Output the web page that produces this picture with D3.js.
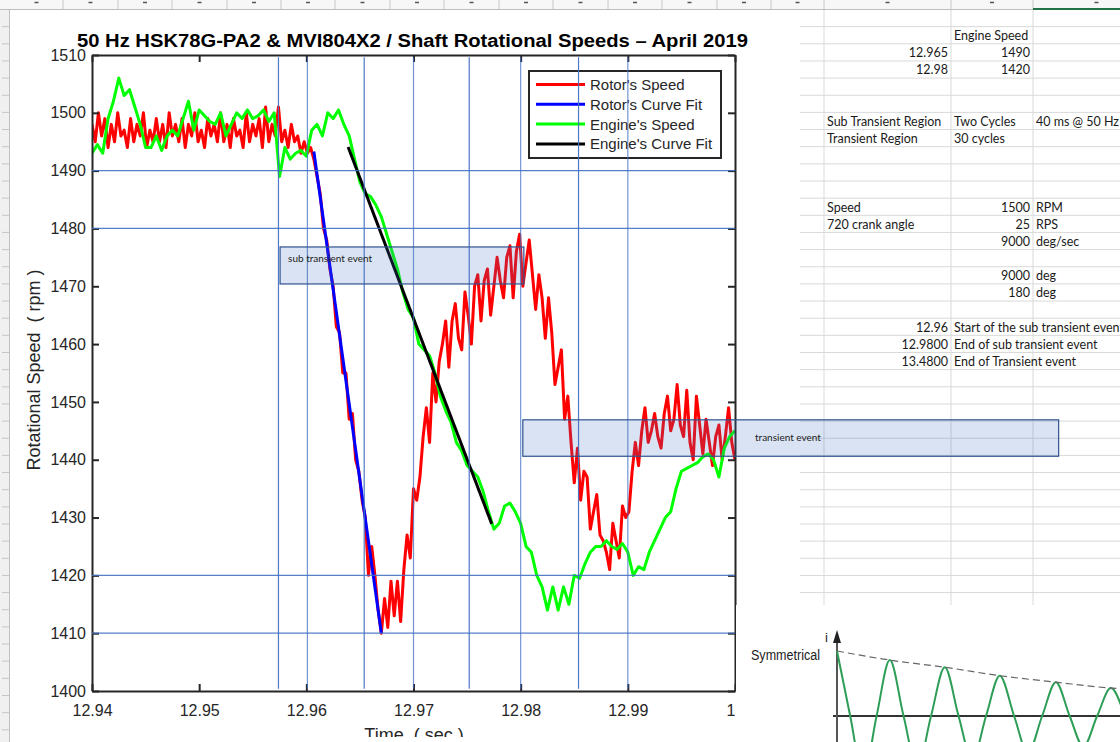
<!DOCTYPE html>
<html lang="en">
<head>
<meta charset="UTF-8">
<title>Shaft Rotational Speeds - April 2019</title>
<style>
  body { margin: 0; background: #fff; }
  svg { display: block; }
  .mat text { font-family: "Liberation Sans", Arial, sans-serif; }
  .cell { font-family: Lato, "Open Sans", sans-serif; font-size: 12.5px; fill: #1a1a1a; }
  .note { font-family: Lato, "Open Sans", sans-serif; font-size: 10px; fill: #222; }
</style>
<script src="https://cdn.jsdelivr.net/npm/d3@7/dist/d3.min.js"></script>
</head>
<body>
<script>
// ---------- values ----------
// rotor speed, sampled every 0.3 ms from 12.94 s
const rotorStart = 12.94;
const rotorStep = 0.0003;
const rotorSpeed = [
  1498, 1495, 1500, 1496, 1499, 1494, 1498, 1495, 1500, 1496,
  1497, 1494, 1499, 1495, 1498, 1496, 1500, 1494, 1497, 1495,
  1499, 1495, 1498, 1494, 1500, 1496, 1498, 1495, 1499, 1494,
  1498, 1496, 1500, 1495, 1497, 1494, 1499, 1496, 1498, 1495,
  1500, 1495, 1498, 1494, 1499, 1496, 1497, 1494, 1500, 1495,
  1498, 1496, 1499, 1494, 1501, 1495, 1498, 1496, 1501, 1495,
  1497, 1494, 1498, 1495, 1496, 1493, 1495, 1493,
  1494, 1492, 1489, 1486, 1480, 1478, 1473, 1470, 1463, 1462,
  1455, 1455, 1447, 1448, 1440, 1438, 1433, 1430, 1420, 1425,
  1420, 1414,
  1410, 1416, 1411, 1419, 1413, 1419, 1412,
  1421, 1427, 1423, 1435, 1433, 1437, 1444, 1449, 1443, 1455,
  1450, 1457, 1460, 1464, 1456, 1464, 1467, 1461, 1459, 1469,
  1465, 1460, 1470, 1472, 1464, 1471, 1473, 1465, 1470, 1475,
  1471, 1468, 1475, 1477, 1468, 1476, 1479, 1470, 1474, 1478,
  1472, 1466, 1472, 1468, 1461, 1468, 1462, 1453, 1456, 1459,
  1447, 1451, 1443, 1436, 1442, 1433, 1438, 1437, 1428, 1431,
  1434, 1427, 1426, 1424, 1421, 1429, 1426, 1423, 1432, 1430,
  1431, 1438, 1443, 1439, 1445, 1449, 1443, 1445, 1448, 1444,
  1442, 1448, 1451, 1445, 1447, 1453, 1446, 1444, 1452, 1443,
  1440, 1451, 1446, 1441, 1447, 1443, 1439, 1444, 1446, 1440,
  1444, 1449, 1443, 1440
];

// engine speed, sampled every 0.5 ms from 12.94 s
const engineStart = 12.94;
const engineStep = 0.0005;
const engineSpeed = [
  1493, 1494.5, 1493, 1499, 1502, 1506, 1503, 1504, 1501, 1498,
  1494, 1494, 1496, 1493.5, 1496, 1497, 1496, 1499, 1502, 1497,
  1500.5, 1499.5, 1498.5, 1498, 1500, 1496, 1498, 1500, 1499, 1500.5,
  1499, 1499.5, 1500.5, 1498.5, 1500, 1489, 1494, 1492, 1493, 1493.5,
  1492.5, 1497, 1498, 1496, 1500, 1499, 1500.5, 1498, 1496, 1492,
  1488, 1486, 1485.5, 1484, 1482, 1479, 1476, 1473, 1469, 1466,
  1464.5, 1460, 1459, 1458, 1455, 1451, 1448.5, 1446.5, 1443, 1441.5,
  1439, 1438, 1437, 1434.5, 1431, 1428, 1429, 1432, 1432.5, 1431,
  1429, 1425, 1424, 1420, 1418, 1414, 1418, 1414, 1418, 1415,
  1420, 1419.5, 1422, 1424, 1425, 1425, 1426, 1425, 1424.5, 1425.5,
  1424, 1420, 1421.5, 1421, 1424, 1426, 1428, 1430, 1431, 1435,
  1438, 1438.5, 1439, 1439.5, 1440.5, 1441, 1440, 1437, 1442, 1444,
  1445
];

const rotorFitTime = [12.9607, 12.9670];
const rotorFitRpm = [1493.3, 1410];
const engineFitTime = [12.9639, 12.9773];
const engineFitRpm = [1494.1, 1428.9];

const xTicks = [12.94, 12.95, 12.96, 12.97, 12.98, 12.99, 13.0];
const xTickLabels = ["12.94", "12.95", "12.96", "12.97", "12.98", "12.99", "13"];
const yTicks = [1400, 1410, 1420, 1430, 1440, 1450, 1460, 1470, 1480, 1490, 1500, 1510];

const legendLabels = ["Rotor's Speed", "Rotor's Curve Fit", "Engine's Speed", "Engine's Curve Fit"];
const legendColors = ["#ff0000", "#0000ff", "#00ff00", "#000000"];

// hand-drawn blue guide lines laid over the plot
const guideTimes = [12.9574, 12.9601, 12.9654, 12.9700, 12.9752, 12.9800, 12.9854, 12.9900];
const guideRpms = [1490, 1480, 1420, 1410];

// shaded annotation boxes: [t0, t1, rpmTop, rpmBottom, label]
const noteBoxes = [
  [12.95755, 12.98030, 1476.8, 1470.4, "sub transient event"],
  [12.98020, 13.03020, 1446.9, 1440.6, "transient event"]
];

// spreadsheet cells: [row, column, text, align]
const sheetCells = [
  [1, 1, "Engine Speed", "start"],
  [2, 0, "12.965", "end"], [2, 1, "1490", "end"],
  [3, 0, "12.98", "end"], [3, 1, "1420", "end"],
  [6, 0, "Sub Transient Region", "start"], [6, 1, "Two Cycles", "start"], [6, 2, "40 ms @ 50 Hz", "start"],
  [7, 0, "Transient Region", "start"], [7, 1, "30 cycles", "start"],
  [11, 0, "Speed", "start"], [11, 1, "1500", "end"], [11, 2, "RPM", "start"],
  [12, 0, "720 crank angle", "start"], [12, 1, "25", "end"], [12, 2, "RPS", "start"],
  [13, 1, "9000", "end"], [13, 2, "deg/sec", "start"],
  [15, 1, "9000", "end"], [15, 2, "deg", "start"],
  [16, 1, "180", "end"], [16, 2, "deg", "start"],
  [18, 0, "12.96", "end"], [18, 1, "Start of the sub transient event", "start"],
  [19, 0, "12.9800", "end"], [19, 1, "End of sub transient event", "start"],
  [20, 0, "13.4800", "end"], [20, 1, "End of Transient event", "start"]
];

// "Symmetrical" sketch: cycles vs. relative current
const symCycles = [0, 0.24, 0.48, 0.72, 0.96, 1.21, 1.46, 1.71, 1.96, 2.21, 2.46, 2.71,
  2.96, 3.22, 3.47, 3.73, 3.98, 4.23, 4.48, 4.73, 4.98, 5.23];
const symCurrent = [1, 0, -0.93, 0, 0.86, 0, -0.8, 0, 0.75, 0, -0.68, 0,
  0.62, 0, -0.57, 0, 0.52, 0, -0.47, 0, 0.43, 0];
const envCycles = [0, 0.96, 1.96, 2.96, 3.98, 4.98, 5.4];
const envCurrent = [1, 0.86, 0.75, 0.62, 0.52, 0.43, 0.41];

// ---------- drawing ----------
const W = 1120, H = 742;
const svg = d3.select("body").append("svg").attr("width", W).attr("height", H);
svg.append("rect").attr("width", W).attr("height", H).attr("fill", "#fff");

// spreadsheet behind the pasted chart
const rowH = 17.15, row0 = 9.5;
const colEdges = [824, 951, 1033, 1160];
const sheet = svg.append("g");
for (let k = 1; k <= 35; k++) {
  sheet.append("line").attr("x1", 800).attr("x2", W)
    .attr("y1", row0 + k * rowH).attr("y2", row0 + k * rowH)
    .attr("stroke", "#d9d9d9").attr("stroke-width", 1);
}
colEdges.slice(0, 3).forEach(cx => {
  sheet.append("line").attr("x1", cx).attr("x2", cx).attr("y1", 9).attr("y2", 606)
    .attr("stroke", "#d9d9d9").attr("stroke-width", 1);
});
sheet.selectAll("text.cell").data(sheetCells).join("text")
  .attr("class", "cell")
  .attr("x", d => d[3] === "end" ? colEdges[d[1] + 1] - 3 : colEdges[d[1]] + 3)
  .attr("y", d => row0 + d[0] * rowH + 13.5)
  .attr("text-anchor", d => d[3])
  .text(d => d[2]);

// column header strip: only the feet of the letters survive the crop
const hdr = svg.append("g");
hdr.append("rect").attr("x", 0).attr("y", 0).attr("width", W).attr("height", 9).attr("fill", "#f7f7f7");
const hdrEdges = [10, 63, 118, 172, 227, 281, 335, 390, 444, 499, 553, 608, 662, 717, 771, 824, 951, 1033, 1160];
hdrEdges.slice(1, -1).forEach(cx => {
  hdr.append("line").attr("x1", cx).attr("x2", cx).attr("y1", 0).attr("y2", 9)
    .attr("stroke", "#c8c8c8");
});
hdrEdges.slice(0, -1).forEach((e, i) => {
  const cx = (e + hdrEdges[i + 1]) / 2;
  hdr.append("line").attr("x1", cx - 2).attr("x2", cx + 2).attr("y1", 2.5).attr("y2", 2.5)
    .attr("stroke", "#555").attr("stroke-width", 1.5);
});
hdr.append("line").attr("x1", 0).attr("x2", W).attr("y1", 9.5).attr("y2", 9.5).attr("stroke", "#bdbdbd");
hdr.append("line").attr("x1", 1033).attr("x2", W).attr("y1", 9).attr("y2", 9)
  .attr("stroke", "#217346").attr("stroke-width", 2);

// row header strip on the left
svg.append("rect").attr("x", 0).attr("y", 10).attr("width", 9).attr("height", H - 10).attr("fill", "#f0f0f0");
svg.append("line").attr("x1", 9.5).attr("x2", 9.5).attr("y1", 10).attr("y2", H).attr("stroke", "#c0c0c0");
for (let k = 1; k <= 43; k++) {
  svg.append("line").attr("x1", 2).attr("x2", 9).attr("y1", row0 + k * rowH).attr("y2", row0 + k * rowH)
    .attr("stroke", "#c6c6c6");
}

// ---------- MATLAB chart image ----------
const mat = svg.append("g").attr("class", "mat");
svg.append("clipPath").attr("id", "chartClip").append("rect")
  .attr("x", 10).attr("y", 10).attr("width", 790).attr("height", 727);
mat.attr("clip-path", "url(#chartClip)");
mat.append("rect").attr("x", 10).attr("y", 10).attr("width", 790).attr("height", 732).attr("fill", "#fff");

const x = d3.scaleLinear().domain([12.94, 13.0]).range([92, 735]);
const y = d3.scaleLinear().domain([1400, 1510]).range([691, 55]);

svg.append("clipPath").attr("id", "plotClip").append("rect")
  .attr("x", 92).attr("y", 55).attr("width", 643).attr("height", 636);

mat.append("text").attr("x", 77).attr("y", 47)
  .attr("font-size", 18).attr("font-weight", "bold").attr("fill", "#000")
  .attr("textLength", 671).attr("lengthAdjust", "spacingAndGlyphs")
  .text("50 Hz HSK78G-PA2 & MVI804X2 / Shaft Rotational Speeds \u2013 April 2019");

const plot = mat.append("g").attr("clip-path", "url(#plotClip)");
const rotorLine = d3.line().x((d, i) => x(rotorStart + i * rotorStep)).y(d => y(d));
const engineLine = d3.line().x((d, i) => x(engineStart + i * engineStep)).y(d => y(d));
const fitLine = d3.line().x(d => x(d[0])).y(d => y(d[1]));

plot.append("path").datum(rotorSpeed).attr("d", rotorLine)
  .attr("fill", "none").attr("stroke", legendColors[0]).attr("stroke-width", 3).attr("stroke-linejoin", "round");
plot.append("path").datum(d3.zip(rotorFitTime, rotorFitRpm)).attr("d", fitLine)
  .attr("fill", "none").attr("stroke", legendColors[1]).attr("stroke-width", 3);
plot.append("path").datum(engineSpeed).attr("d", engineLine)
  .attr("fill", "none").attr("stroke", legendColors[2]).attr("stroke-width", 3).attr("stroke-linejoin", "round");
plot.append("path").datum(d3.zip(engineFitTime, engineFitRpm)).attr("d", fitLine)
  .attr("fill", "none").attr("stroke", legendColors[3]).attr("stroke-width", 3);

// axes, MATLAB box style with inward ticks
const axisColor = "#262626";
function styleAxis(g) {
  g.select(".domain").attr("stroke", axisColor).attr("stroke-width", 2);
  g.selectAll(".tick line").attr("stroke", axisColor).attr("stroke-width", 2);
  g.selectAll(".tick text").attr("fill", axisColor).attr("font-size", 16)
    .attr("font-family", "'Liberation Sans', Arial, sans-serif");
}
mat.append("g").attr("transform", "translate(0,691)")
  .call(d3.axisBottom(x).tickValues(xTicks).tickSizeInner(-7).tickSizeOuter(0).tickPadding(14)
    .tickFormat((d, i) => xTickLabels[i]))
  .call(styleAxis);
mat.append("g").attr("transform", "translate(0,55)")
  .call(d3.axisTop(x).tickValues(xTicks).tickSizeInner(-7).tickSizeOuter(0).tickFormat(""))
  .call(styleAxis);
mat.append("g").attr("transform", "translate(92,0)")
  .call(d3.axisLeft(y).tickValues(yTicks).tickSizeInner(-7).tickSizeOuter(0).tickPadding(6)
    .tickFormat(d3.format("d")))
  .call(styleAxis);
mat.append("g").attr("transform", "translate(735,0)")
  .call(d3.axisRight(y).tickValues(yTicks).tickSizeInner(-7).tickSizeOuter(0).tickFormat(""))
  .call(styleAxis);

mat.append("text").attr("transform", "translate(40,370) rotate(-90)")
  .attr("text-anchor", "middle").attr("font-size", 18).attr("fill", axisColor)
  .attr("xml:space", "preserve").text("Rotational Speed  ( rpm )");
mat.append("text").attr("x", 414).attr("y", 741)
  .attr("text-anchor", "middle").attr("font-size", 18).attr("fill", axisColor)
  .attr("xml:space", "preserve").text("Time  ( sec )");

// legend
const leg = mat.append("g");
leg.append("rect").attr("x", 529).attr("y", 71).attr("width", 192).attr("height", 87)
  .attr("fill", "#fff").attr("stroke", axisColor).attr("stroke-width", 2);
legendLabels.forEach((lab, i) => {
  const ly = 84.5 + i * 19.8;
  leg.append("line").attr("x1", 536).attr("x2", 585).attr("y1", ly).attr("y2", ly)
    .attr("stroke", legendColors[i]).attr("stroke-width", 3);
  leg.append("text").attr("x", 590).attr("y", ly + 5.5).attr("font-size", 15).attr("fill", axisColor).text(lab);
});

// ---------- shapes drawn on top in the spreadsheet ----------
const guides = svg.append("g");
guides.selectAll("line.v").data(guideTimes).join("line").attr("class", "v")
  .attr("x1", d => x(d)).attr("x2", d => x(d))
  .attr("y1", y(1509.6)).attr("y2", y(1400.4))
  .attr("stroke", "#4472c4").attr("stroke-width", 1.2).attr("opacity", (d, i) => i % 2 ? 0.75 : 0.95);
guides.selectAll("line.h").data(guideRpms).join("line").attr("class", "h")
  .attr("x1", x(12.94)).attr("x2", x(13.0))
  .attr("y1", d => y(d)).attr("y2", d => y(d))
  .attr("stroke", "#4472c4").attr("stroke-width", 1.2).attr("opacity", 0.9);

const boxes = svg.append("g");
noteBoxes.forEach((b, i) => {
  boxes.append("rect").attr("x", x(b[0])).attr("y", y(b[2]))
    .attr("width", x(b[1]) - x(b[0])).attr("height", y(b[3]) - y(b[2]))
    .attr("fill", "#4472c4").attr("fill-opacity", 0.2)
    .attr("stroke", "#2f528f").attr("stroke-width", 1.2);
  boxes.append("text").attr("class", "note")
    .attr("x", i === 0 ? x(b[0]) + 8 : 755)
    .attr("y", i === 0 ? y(b[2]) + 15 : y(b[2]) + 21)
    .text(b[4]);
});

// ---------- "Symmetrical" picture pasted at the bottom right ----------
const sym = svg.append("g");
sym.append("rect").attr("x", 736).attr("y", 605).attr("width", W - 736).attr("height", H - 605).attr("fill", "#fff");
const sx = d3.scaleLinear().domain([0, 5]).range([837, 1112]);
const sy = d3.scaleLinear().domain([-1, 1]).range([781, 651]);
sym.append("line").attr("x1", 833).attr("x2", W).attr("y1", sy(0)).attr("y2", sy(0))
  .attr("stroke", "#333").attr("stroke-width", 2);
sym.append("line").attr("x1", sx(0)).attr("x2", sx(0)).attr("y1", 640).attr("y2", H)
  .attr("stroke", "#555").attr("stroke-width", 2);
sym.append("path").attr("d", `M${sx(0)},630 L${sx(0) - 4},643 L${sx(0) + 4},643 Z`).attr("fill", "#222");
sym.append("path").datum(d3.zip(symCycles, symCurrent))
  .attr("d", d3.line().x(d => sx(d[0])).y(d => sy(d[1])).curve(d3.curveMonotoneX))
  .attr("fill", "none").attr("stroke", "#2e9e57").attr("stroke-width", 2);
sym.append("path").datum(d3.zip(envCycles, envCurrent))
  .attr("d", d3.line().x(d => sx(d[0])).y(d => sy(d[1])).curve(d3.curveMonotoneX))
  .attr("fill", "none").attr("stroke", "#666").attr("stroke-width", 1.2).attr("stroke-dasharray", "7,4");
sym.append("text").attr("x", 751).attr("y", 660).attr("font-family", "'Liberation Sans', Arial, sans-serif")
  .attr("font-size", 14).attr("textLength", 69).attr("lengthAdjust", "spacingAndGlyphs")
  .attr("fill", "#222").text("Symmetrical");
sym.append("text").attr("x", 825).attr("y", 642).attr("font-family", "'Liberation Sans', Arial, sans-serif")
  .attr("font-size", 13).attr("fill", "#222").text("i");
</script>
</body>
</html>
